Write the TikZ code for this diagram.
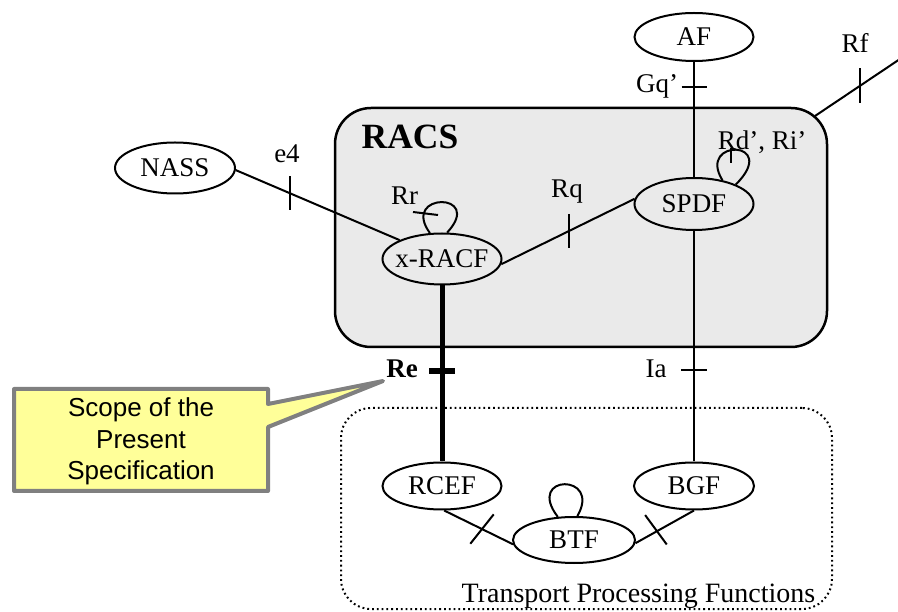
\documentclass[tikz,border=0pt]{standalone}
\usepackage{fontspec}
\setmainfont{Liberation Serif}
\newfontfamily\calloutfont{Liberation Sans}
\usetikzlibrary{shapes.geometric,calc}
\definecolor{racsgray}{RGB}{234,234,234}
\definecolor{calloutfill}{RGB}{255,255,153}
\definecolor{calloutedge}{RGB}{128,128,128}
\begin{document}
\begin{tikzpicture}[x=1pt,y=-1pt,
  font=\fontsize{27}{32}\selectfont,
  fn/.style={ellipse, draw, line width=2pt, inner sep=0pt},
  conn/.style={line width=2pt},
  tick/.style={line width=2pt},
  thickconn/.style={line width=5pt},
  lbl/.style={inner sep=0pt, anchor=base}]
\useasboundingbox (0,0) rectangle (898,612);

% containers
\node[draw, line width=2.5pt, fill=racsgray, rounded corners=36pt,
      minimum width=492pt, minimum height=239pt] (racs) at (581,227.5) {};
\node[draw, line width=2pt, dash pattern=on 1.8pt off 3pt, rounded corners=30pt,
      minimum width=491pt, minimum height=201pt] (tpf) at (586.5,508.5) {};

% functional entities
\node[fn, minimum width=119pt, minimum height=48pt] (af)    at (694,37)  {\makebox[0pt]{AF}};
\node[fn, minimum width=119pt, minimum height=52pt] (spdf)  at (694,204) {\makebox[0pt]{SPDF}};
\node[fn, minimum width=119pt, minimum height=51pt] (xracf) at (442,259) {\makebox[0pt]{x-RACF}};
\node[fn, minimum width=120pt, minimum height=51pt] (nass)  at (175,168) {\makebox[0pt]{NASS}};
\node[fn, minimum width=119pt, minimum height=47pt] (rcef)  at (442,486) {\makebox[0pt]{RCEF}};
\node[fn, minimum width=120pt, minimum height=47pt] (bgf)   at (694,486) {\makebox[0pt]{BGF}};
\node[fn, minimum width=122pt, minimum height=46pt] (btf)   at (574,540) {\makebox[0pt]{BTF}};

% reference points
\draw[conn] (af.south) -- coordinate[pos=0.214] (tgq) (spdf.north);
\draw[tick] ($(tgq)+(-12.5,0)$) -- ($(tgq)+(12.5,0)$);

\draw[conn] (spdf.south) -- coordinate[pos=0.603] (tia) (bgf.north);
\draw[tick] ($(tia)+(-13,0)$) -- ($(tia)+(13,0)$);

\draw[thickconn] (xracf.south) -- coordinate[pos=0.483] (tre) (rcef.north);
\draw[line width=6pt] ($(tre)+(-13,0)$) -- ($(tre)+(13,0)$);

\draw[conn] (nass.-2) -- coordinate[pos=0.33] (te4) (xracf.156);
\draw[tick] ($(te4)+(0,-17)$) -- ($(te4)+(0,17)$);

\draw[conn] (xracf.-5) -- coordinate[pos=0.51] (trq) (spdf.175);
\draw[tick] ($(trq)+(0,-17)$) -- ($(trq)+(0,17)$);

\coordinate (rfa) at (815,116);
\coordinate (rfb) at (900,59);
\draw[conn] (rfa) -- coordinate[pos=0.53] (trf) (rfb);
\draw[tick] ($(trf)+(0,-17.5)$) -- ($(trf)+(0,17.5)$);

\draw[conn] (rcef.-85) -- coordinate[pos=0.55] (tr1) (btf.184);
\draw[tick] ($(tr1)+(-11.7,14.7)$) -- ($(tr1)+(11.7,-14.7)$);

\draw[conn] (bgf.south) -- coordinate[pos=0.65] (tr2) (btf.-3);
\draw[tick] ($(tr2)+(-10.8,-16.7)$) -- ($(tr2)+(10.8,12.7)$);

% self loops
\draw[conn] (spdf.40) .. controls +(-26,-42) and +(45,-45) .. (spdf.25);
\draw[tick] ($(spdf.center)+(37,-56)$) -- ($(spdf.center)+(37,-41)$);
\draw[conn] (xracf.115) .. controls +(-30,-41) and +(38,-41) .. (xracf.79);
\draw[tick] ($(xracf.center)+(-29,-47)$) -- ($(xracf.center)+(-4,-44)$);
\draw[conn] (btf.125) .. controls +(-33,-43) and +(25,-43) .. (btf.82);

% labels
\node[lbl] (lgq)   at (657,93)    {Gq’};
\node[lbl] (lrf)   at (855,53)    {Rf};
\node[lbl] (lrd)   at (762,150)   {Rd’, Ri’};
\node[lbl, font=\fontsize{35.5}{40}\selectfont\bfseries] (lracs) at (410,148.3) {RACS};
\node[lbl] (le4)   at (287,163)   {e4};
\node[lbl] (lrr)   at (404.5,205) {Rr};
\node[lbl] (lrq)   at (567,198)   {Rq};
\node[lbl, font=\fontsize{27}{32}\selectfont\bfseries] (lre) at (402,378) {Re};
\node[lbl] (lia)   at (656,378)   {Ia};
\node[lbl, font=\fontsize{28}{32}\selectfont] (ltpf) at (638.5,602) {Transport Processing Functions};

% callout
\draw[line width=4pt, draw=calloutedge, fill=calloutfill, line join=round]
  (14,389) -- (268,389) -- (268,404) -- (383,381) -- (268,427) -- (268,491) -- (14,491) -- cycle;
\node[align=center, inner sep=0pt, font=\calloutfont\fontsize{26}{31.7}\selectfont] (scope)
  at (141,441.5) {Scope of the\\Present\\Specification};
\end{tikzpicture}
\end{document}
